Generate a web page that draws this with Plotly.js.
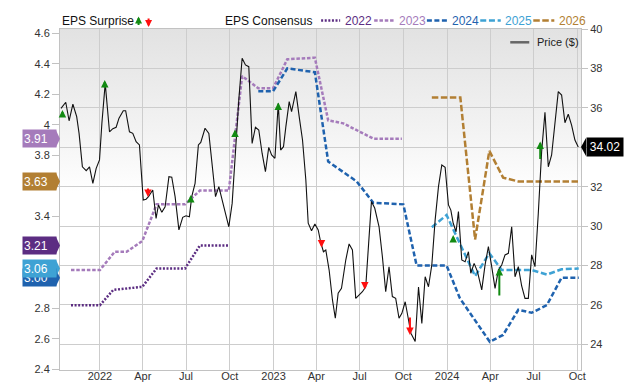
<!DOCTYPE html>
<html><head><meta charset="utf-8">
<script src="https://cdn.plot.ly/plotly-3.0.1.min.js"></script>
<style>
html,body{margin:0;padding:0;background:#fff;}
#wrap{position:relative;width:640px;height:382px;overflow:hidden;}
#bg{position:absolute;left:60px;top:29px;width:521px;height:341px;background:linear-gradient(to bottom,#e2e2e2 0%,#f3f3f3 30%,#ffffff 48%,#ffffff 100%);}
#chart{position:absolute;left:0;top:0;width:640px;height:382px;}
</style></head><body>
<div id="wrap"><div id="bg"></div><div id="chart"></div></div>
<script>
// ---- Price ($), right axis ----
const priceDates = ['2021-10-11','2021-10-21','2021-10-28','2021-11-05','2021-11-13','2021-11-18','2021-11-25','2021-12-03','2021-12-10','2021-12-17','2021-12-24','2021-12-31',
'2022-01-05','2022-01-12','2022-01-21','2022-01-28','2022-02-04','2022-02-10','2022-02-19','2022-02-24','2022-03-04','2022-03-11','2022-03-18','2022-03-25',
'2022-04-02','2022-04-08','2022-04-13','2022-04-22','2022-04-29','2022-05-04','2022-05-11','2022-05-18','2022-05-26','2022-06-01','2022-06-08','2022-06-16','2022-06-24',
'2022-07-01','2022-07-08','2022-07-13','2022-07-20','2022-07-27','2022-08-01','2022-08-10','2022-08-18','2022-08-25','2022-09-01','2022-09-08','2022-09-15','2022-09-22','2022-09-29',
'2022-10-06','2022-10-13','2022-10-20','2022-10-27','2022-11-03','2022-11-10','2022-11-17','2022-11-24','2022-12-01','2022-12-08','2022-12-15','2022-12-22','2022-12-28',
'2023-01-04','2023-01-11','2023-01-16','2023-01-22','2023-01-27','2023-02-03','2023-02-08','2023-02-17','2023-02-24','2023-03-03','2023-03-10','2023-03-15','2023-03-22','2023-03-29',
'2023-04-05','2023-04-10','2023-04-16','2023-04-21','2023-04-28','2023-05-05','2023-05-11','2023-05-17','2023-05-24','2023-06-02','2023-06-09','2023-06-16','2023-06-23','2023-06-30',
'2023-07-07','2023-07-14','2023-07-19','2023-07-26','2023-08-02','2023-08-11','2023-08-18','2023-08-25','2023-09-01','2023-09-08','2023-09-15','2023-09-22','2023-09-28',
'2023-10-05','2023-10-12','2023-10-17','2023-10-26','2023-11-02','2023-11-09','2023-11-16','2023-11-23','2023-11-30','2023-12-07','2023-12-14','2023-12-21','2023-12-28',
'2024-01-04','2024-01-09','2024-01-14','2024-01-20','2024-01-25','2024-02-01','2024-02-08','2024-02-15','2024-02-20','2024-02-27','2024-03-05','2024-03-14','2024-03-21','2024-03-28',
'2024-04-04','2024-04-11','2024-04-18','2024-04-25','2024-05-02','2024-05-09','2024-05-16','2024-05-23','2024-05-30','2024-06-06','2024-06-13','2024-06-20','2024-06-27',
'2024-07-04','2024-07-11','2024-07-18','2024-07-25','2024-08-01','2024-08-08','2024-08-15','2024-08-22','2024-08-29','2024-09-05','2024-09-12','2024-09-19','2024-09-26','2024-10-03'];
const priceVals = [35.98,36.29,35.35,36.19,35.56,34.71,33.01,32.81,33.01,32.17,32.93,33.36,
35.22,37.25,34.79,34.95,35.02,35.48,35.86,35.86,34.79,34.71,34.29,34.12,
31.32,31.36,31.49,31.83,30.39,31.07,30.70,30.98,32.51,32.48,31.49,29.80,30.44,
30.52,30.47,31.49,32.17,34.12,34.25,34.97,34.71,33.19,31.49,32.00,31.32,30.65,29.96,
31.15,33.86,36.41,38.53,38.19,38.10,34.20,35.02,34.88,33.70,32.76,34.00,33.61,
33.44,36.24,33.86,34.03,35.05,36.32,35.81,36.83,35.56,34.37,32.34,30.14,29.76,30.10,
29.80,29.20,28.69,28.78,27.76,26.24,25.31,26.58,26.83,28.27,29.09,28.78,26.32,26.49,
26.66,26.91,28.95,31.24,30.90,29.96,28.44,26.66,27.93,26.41,26.32,25.31,25.56,
26.15,25.22,24.55,24.13,26.90,25.05,27.42,26.91,28.02,30.31,32.00,33.10,32.98,
31.07,30.81,30.14,29.71,30.73,28.27,28.18,28.69,27.60,28.10,27.68,26.75,28.02,28.95,
27.93,26.83,27.76,28.02,28.53,28.61,29.96,27.42,27.93,26.95,26.32,26.32,28.53,
27.93,30.65,33.78,35.78,33.01,33.61,35.13,36.83,36.66,35.25,35.68,35.13,34.37,34.02];

// ---- EPS Consensus by fiscal year, left axis ----
const c2022Dates = ['2021-11-01','2022-01-01','2022-01-29','2022-03-31','2022-04-30','2022-06-29','2022-07-30','2022-09-28'];
const c2022Vals  = [2.82,2.82,2.92,2.94,3.06,3.06,3.21,3.21];
const c2023Dates = ['2021-11-01','2022-01-01','2022-02-01','2022-02-26','2022-03-31','2022-04-30','2022-06-29','2022-07-30','2022-09-29','2022-10-27','2022-11-30','2022-12-31','2023-01-30','2023-03-29','2023-04-26','2023-05-28','2023-07-30','2023-09-28'];
const c2023Vals  = [3.05,3.05,3.17,3.17,3.24,3.48,3.48,3.57,3.57,4.32,4.24,4.24,4.43,4.44,4.03,4.01,3.91,3.91];
const c2024Dates = ['2022-11-30','2022-12-31','2023-01-30','2023-03-29','2023-04-26','2023-06-25','2023-07-30','2023-10-01','2023-10-29','2023-12-31','2024-01-28','2024-03-31','2024-04-28','2024-05-30','2024-06-27','2024-07-29','2024-08-29','2024-10-04'];
const c2024Vals  = [4.22,4.22,4.37,4.345,3.76,3.63,3.49,3.48,3.08,3.08,2.865,2.58,2.625,2.79,2.77,2.82,3.00,3.00];
const c2025Dates = ['2023-11-30','2023-12-31','2024-02-29','2024-03-30','2024-04-25','2024-06-27','2024-07-29','2024-08-29','2024-10-04'];
const c2025Vals  = [3.33,3.41,3.01,3.16,3.05,3.05,3.02,3.055,3.06];
const c2026Dates = ['2023-11-30','2024-01-29','2024-02-29','2024-03-30','2024-04-28','2024-05-30','2024-10-04'];
const c2026Vals  = [4.18,4.18,3.25,3.83,3.655,3.63,3.63];

// ---- EPS Surprise arrows (price level of tip and tail) ----
const surpDates = ['2021-10-14','2022-01-11','2022-04-12','2022-07-11','2022-10-12','2023-01-11','2023-04-12','2023-07-12','2023-10-15','2024-01-14','2024-04-20','2024-07-15'];
const surpType  = ['beat','beat','miss','beat','beat','beat','miss','miss','miss','beat','beat','beat'];
const surpTip   = [35.90,37.42,31.47,31.58,34.91,36.28,28.91,26.77,24.46,29.54,27.86,34.30];
const surpBase  = [35.49,36.96,31.98,31.17,34.50,35.82,29.31,27.18,25.42,29.14,26.39,33.33];

// ---- axis ticks (labels hidden behind value tags in the original are blank) ----
const xTickVals = ['2022-01-01','2022-04-01','2022-07-01','2022-10-01','2023-01-01','2023-04-01','2023-07-01','2023-10-01','2024-01-01','2024-04-01','2024-07-01','2024-10-01'];
const xTickText = ['2022','Apr','Jul','Oct','2023','Apr','Jul','Oct','2024','Apr','Jul','Oct'];
const yTickVals = [2.4,2.6,2.8,3.0,3.2,3.4,3.6,3.8,4.0,4.2,4.4,4.6];
const yTickText = ['2.4','2.6','2.8','','','3.4','','3.8','4','4.2','4.4','4.6'];
const y2TickVals = [24,26,28,30,32,34,36,38,40];
const y2TickText = ['24','26','28','30','32','','36','38','40'];

const series = [
  {name:'2022', x:c2022Dates, y:c2022Vals, color:'#5c2d82', dash:'2px,1.6px', lx0:0.5012, lx1:0.5377, tx:0.5435},
  {name:'2023', x:c2023Dates, y:c2023Vals, color:'#a57bbb', dash:'3.5px,1.8px', lx0:0.6030, lx1:0.6414, tx:0.6466},
  {name:'2024', x:c2024Dates, y:c2024Vals, color:'#1f62ae', dash:'5px,2.5px', lx0:0.7042, lx1:0.7432, tx:0.7490},
  {name:'2025', x:c2025Dates, y:c2025Vals, color:'#3ea2d4', dash:'6px,2.7px', lx0:0.8066, lx1:0.8460, tx:0.8508},
  {name:'2026', x:c2026Dates, y:c2026Vals, color:'#b27f33', dash:'6.5px,2.5px', lx0:0.9084, lx1:0.9488, tx:0.9539}
];

const FONT = '"Liberation Sans", Arial, Helvetica, sans-serif';
const traces = series.map(s => ({
  type:'scatter', mode:'lines', x:s.x, y:s.y, yaxis:'y',
  line:{color:s.color, width:2.5, dash:s.dash}, hoverinfo:'skip', showlegend:false
}));
traces.push({type:'scatter', mode:'lines', x:priceDates, y:priceVals, yaxis:'y2',
  line:{color:'#111', width:1.1}, hoverinfo:'skip', showlegend:false});

const shapes = [];
const annotations = [];
const LY = 1.0249;

// legend
annotations.push({xref:'paper', yref:'paper', x:0, y:LY, xanchor:'left', yanchor:'middle', showarrow:false,
  text:'EPS Surprise', font:{family:FONT, size:12, color:'#111'}});
annotations.push({xref:'paper', yref:'paper', x:0.1508, y:1.0367, ax:0, ay:10, showarrow:true, text:'',
  arrowhead:2, arrowsize:0.7, arrowwidth:2, arrowcolor:'#128a12', standoff:0});
annotations.push({xref:'paper', yref:'paper', x:0.1700, y:1.0059, ax:0, ay:-10, showarrow:true, text:'',
  arrowhead:2, arrowsize:0.7, arrowwidth:2, arrowcolor:'#ff1010', standoff:0});
annotations.push({xref:'paper', yref:'paper', x:0.3123, y:LY, xanchor:'left', yanchor:'middle', showarrow:false,
  text:'EPS Consensus', font:{family:FONT, size:12, color:'#111'}});
series.forEach(s => {
  shapes.push({type:'line', xref:'paper', yref:'paper', x0:s.lx0, x1:s.lx1, y0:LY, y1:LY,
    line:{color:s.color, width:2.5, dash:s.dash}});
  annotations.push({xref:'paper', yref:'paper', x:s.tx, y:LY, xanchor:'left', yanchor:'middle', showarrow:false,
    text:s.name, font:{family:FONT, size:12, color:s.color}});
});
shapes.push({type:'line', xref:'paper', yref:'paper', x0:0.8642, x1:0.9007, y0:0.961, y1:0.961,
  line:{color:'#666', width:2.5}});
annotations.push({xref:'paper', yref:'paper', x:0.9122, y:0.961, xanchor:'left', yanchor:'middle', showarrow:false,
  text:'Price ($)', font:{family:FONT, size:11, color:'#222'}});

// surprise arrows
surpDates.forEach((d,i) => {
  annotations.push({xref:'x', yref:'y2', x:d, y:surpTip[i], axref:'pixel', ayref:'y2', ax:0, ay:surpBase[i],
    showarrow:true, text:'', arrowhead:2, arrowsize:0.75, arrowwidth:2, standoff:0,
    arrowcolor: surpType[i] === 'beat' ? '#128a12' : '#ff1010'});
});

// last-value tags on the left axis (drawn in this order so 2025 overlaps 2024)
const tagOrder = [2, 3, 0, 4, 1];
tagOrder.forEach(k => {
  const s = series[k];
  const v = s.y[s.y.length - 1];
  shapes.push({type:'path', xref:'paper', yref:'y', xsizemode:'pixel', ysizemode:'pixel', xanchor:0, yanchor:v,
    path:'M-4,8.5 L0,0 L-4,-8.5 Z', fillcolor:s.color, line:{width:0}, layer:'above'});
  annotations.push({xref:'paper', yref:'y', x:0, xshift:-3.5, y:v, xanchor:'right', yanchor:'middle', showarrow:false,
    text:v.toFixed(2), bgcolor:s.color, width:31, height:15, borderpad:1, align:'left',
    font:{family:FONT, size:12, color:'#fff'}});
});
// last price tag on the right
const lastPrice = priceVals[priceVals.length - 1];
shapes.push({type:'path', xref:'paper', yref:'y2', xsizemode:'pixel', ysizemode:'pixel', xanchor:1, yanchor:lastPrice,
  path:'M0,0 L5,9 L5,-9 Z', fillcolor:'#000', line:{width:0}, layer:'above'});
annotations.push({xref:'paper', yref:'y2', x:1, xshift:4.5, y:lastPrice, xanchor:'left', yanchor:'middle', showarrow:false,
  text:lastPrice.toFixed(2), bgcolor:'#000', width:34, height:16, borderpad:1, align:'center',
  font:{family:FONT, size:12, color:'#fff'}});

const layout = {
  width:640, height:382,
  margin:{l:60, r:59, t:29, b:12, pad:0},
  paper_bgcolor:'rgba(0,0,0,0)', plot_bgcolor:'rgba(0,0,0,0)',
  showlegend:false,
  font:{family:FONT, size:11, color:'#333'},
  xaxis:{type:'date', range:['2021-10-08 21:30','2024-10-08 19:00'], tickvals:xTickVals, ticktext:xTickText,
    showgrid:true, gridcolor:'#cdcdcd', gridwidth:1, showline:true, linecolor:'#c2c2c2', mirror:true,
    ticks:'', ticklabelstandoff:-4, zeroline:false, tickfont:{family:FONT, size:11, color:'#333'}},
  yaxis:{range:[2.3954, 4.628], tickvals:yTickVals, ticktext:yTickText, ticks:'outside', ticklen:7, tickcolor:'#c2c2c2',
    showgrid:false, showline:true, linecolor:'#c2c2c2', mirror:true, zeroline:false,
    tickfont:{family:FONT, size:11, color:'#333'}},
  yaxis2:{overlaying:'y', side:'right', range:[22.679, 40.015], tickvals:y2TickVals, ticktext:y2TickText, ticks:'outside', ticklen:6,
    tickcolor:'#c2c2c2', showgrid:true, gridcolor:'#cdcdcd', zeroline:false, showline:false,
    tickfont:{family:FONT, size:11, color:'#333'}},
  shapes:shapes, annotations:annotations
};

Plotly.newPlot('chart', traces, layout, {staticPlot:true, displayModeBar:false});
</script></body></html>
